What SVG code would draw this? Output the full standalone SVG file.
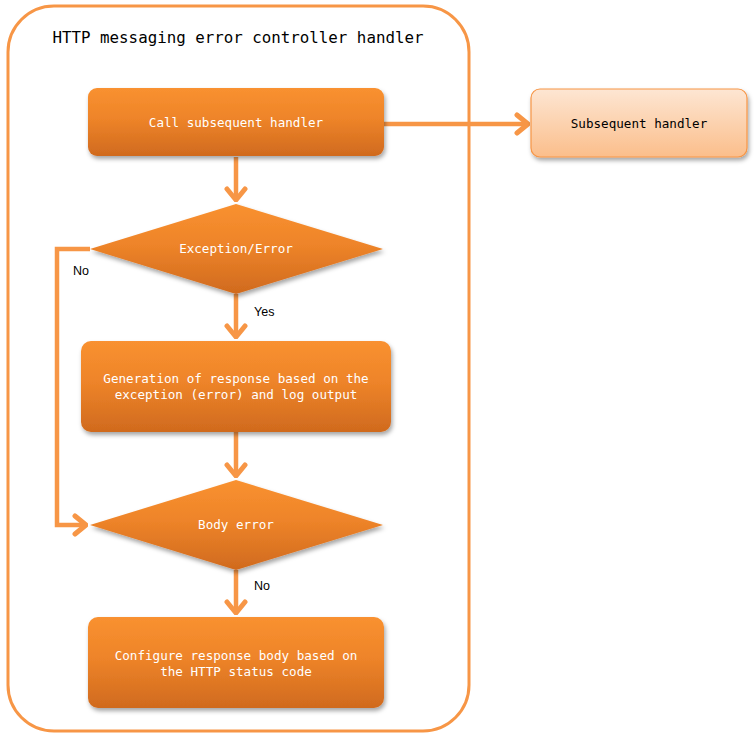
<svg xmlns="http://www.w3.org/2000/svg" width="755" height="738" viewBox="0 0 755 738">
  <style>
    .mono { font-family: "DejaVu Sans Mono", "Liberation Mono", monospace; }
    .label { font-family: "Liberation Sans", Arial, sans-serif; font-size: 12.5px; fill: #000; }
    .step { fill: url(#dark); filter: url(#shadow); }
    .step-text { font-size: 12.6px; fill: #fff; text-anchor: middle; }
    .conn { fill: none; stroke: #F79646; stroke-width: 4.5; stroke-linejoin: miter; }
  </style>
  <defs>
    <linearGradient id="dark" x1="0" y1="0" x2="0" y2="1">
      <stop offset="0" stop-color="#F99130"/>
      <stop offset="0.45" stop-color="#EE8429"/>
      <stop offset="1" stop-color="#D06A1E"/>
    </linearGradient>
    <linearGradient id="light" x1="0" y1="0" x2="0" y2="1">
      <stop offset="0" stop-color="#FDE6D3"/>
      <stop offset="1" stop-color="#FBBE8B"/>
    </linearGradient>
    <filter id="shadow" x="-10%" y="-10%" width="125%" height="135%">
      <feDropShadow dx="1.5" dy="3" stdDeviation="2.2" flood-color="#000" flood-opacity="0.35"/>
    </filter>
    <marker id="chev" markerUnits="userSpaceOnUse" viewBox="-14 -12 16 24" refX="0" refY="0" markerWidth="16" markerHeight="24" orient="auto">
      <path d="M-11,-9 L0,0 L-11,9" fill="none" stroke="#F79646" stroke-width="5" stroke-linecap="round" stroke-linejoin="round"/>
    </marker>
  </defs>

  <!-- outer handler frame -->
  <g id="frame">
    <rect x="8" y="6" width="461" height="725" rx="46" ry="46" fill="#fff" stroke="#F79646" stroke-width="3"/>
    <text class="mono" x="238" y="43" font-size="15.8" text-anchor="middle" fill="#000">HTTP messaging error controller handler</text>
  </g>

  <!-- connectors -->
  <g id="connectors">
    <line class="conn" x1="384" y1="124" x2="528" y2="124" marker-end="url(#chev)"/>
    <line class="conn" x1="236" y1="157" x2="236" y2="200" marker-end="url(#chev)"/>
    <line class="conn" x1="236" y1="294" x2="236" y2="337" marker-end="url(#chev)"/>
    <line class="conn" x1="236" y1="432" x2="236" y2="476" marker-end="url(#chev)"/>
    <line class="conn" x1="236" y1="570" x2="236" y2="613" marker-end="url(#chev)"/>
    <polyline class="conn" points="90,249 57,249 57,525 86,525" marker-end="url(#chev)"/>
    <text class="label" x="73" y="275">No</text>
    <text class="label" x="254" y="316">Yes</text>
    <text class="label" x="254" y="590">No</text>
  </g>

  <g id="call-handler">
    <rect class="step" x="88" y="88" width="296" height="68" rx="9" ry="9"/>
    <text class="mono step-text" x="236" y="127">Call subsequent handler</text>
  </g>

  <g id="subsequent-handler">
    <rect x="531" y="89" width="216" height="68" rx="9" ry="9" fill="url(#light)" stroke="#F79646" stroke-width="1.2" filter="url(#shadow)"/>
    <text class="mono" x="639" y="128" font-size="12.6" text-anchor="middle" fill="#000">Subsequent handler</text>
  </g>

  <g id="exception-check">
    <polygon class="step" points="236,204 383,249 236,294 90,249"/>
    <text class="mono step-text" x="236" y="253">Exception/Error</text>
  </g>

  <g id="generate-response">
    <rect class="step" x="81" y="341" width="310" height="91" rx="10" ry="10"/>
    <text class="mono step-text" x="236" y="383">Generation of response based on the</text>
    <text class="mono step-text" x="236" y="399">exception (error) and log output</text>
  </g>

  <g id="body-error-check">
    <polygon class="step" points="236,480 383,525 236,570 90,525"/>
    <text class="mono step-text" x="236" y="529">Body error</text>
  </g>

  <g id="configure-body">
    <rect class="step" x="88" y="617" width="296" height="91" rx="10" ry="10"/>
    <text class="mono step-text" x="236" y="660">Configure response body based on</text>
    <text class="mono step-text" x="236" y="676">the HTTP status code</text>
  </g>
</svg>
